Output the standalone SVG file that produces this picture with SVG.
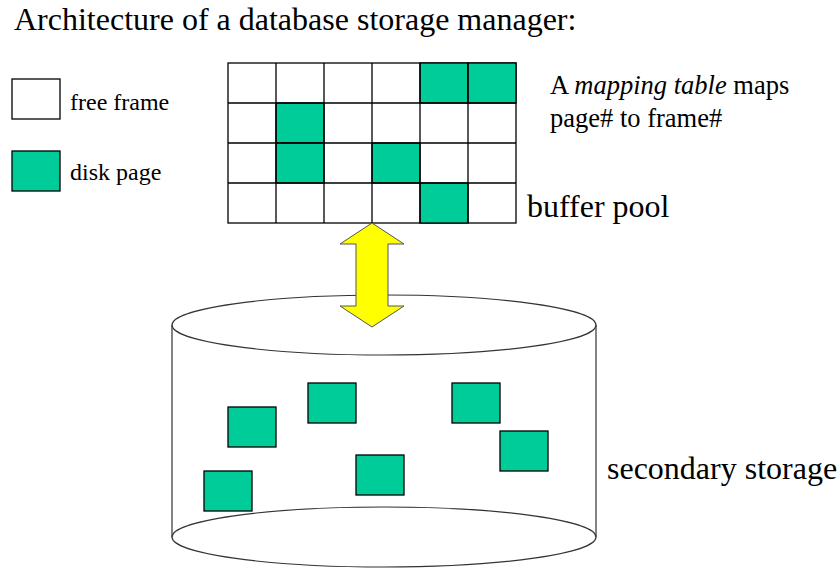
<svg xmlns="http://www.w3.org/2000/svg" width="840" height="576" viewBox="0 0 840 576">
<style>
text{font-family:"Liberation Serif","Times New Roman",serif;fill:#000}
.free{fill:#fff;stroke:#000;stroke-width:1.3}
.page{fill:#00CC99;stroke:#000;stroke-width:1.3}
.cyl{fill:none;stroke:#333;stroke-width:1.2}
.arrow{fill:#FFFF00;stroke:#555;stroke-width:1}
</style>
<rect width="840" height="576" fill="#fff"/>
<text x="14" y="30" font-size="32">Architecture of a database storage manager:</text>

<g id="legend">
<rect class="free" x="12" y="79" width="48" height="40"/>
<text x="70" y="110" font-size="24">free frame</text>
<rect class="page" x="12" y="151" width="48" height="40"/>
<text x="70" y="180" font-size="24">disk page</text>
</g>

<g id="buffer-pool">
<rect class="free" x="228" y="63" width="288" height="160"/>
<rect class="page" x="420" y="63" width="48" height="40"/>
<rect class="page" x="468" y="63" width="48" height="40"/>
<rect class="page" x="276" y="103" width="48" height="40"/>
<rect class="page" x="276" y="143" width="48" height="40"/>
<rect class="page" x="372" y="143" width="48" height="40"/>
<rect class="page" x="420" y="183" width="48" height="40"/>
<g stroke="#000" stroke-width="1.3">
<line x1="276" y1="63" x2="276" y2="223"/>
<line x1="324" y1="63" x2="324" y2="223"/>
<line x1="372" y1="63" x2="372" y2="223"/>
<line x1="420" y1="63" x2="420" y2="223"/>
<line x1="468" y1="63" x2="468" y2="223"/>
<line x1="228" y1="103" x2="516" y2="103"/>
<line x1="228" y1="143" x2="516" y2="143"/>
<line x1="228" y1="183" x2="516" y2="183"/>
</g>
<text x="527" y="217" font-size="32">buffer pool</text>
</g>

<g id="mapping-note">
<text x="550" y="94" font-size="26.5">A <tspan font-style="italic">mapping table</tspan> maps</text>
<text x="550" y="127" font-size="26.5">page# to frame#</text>
</g>

<g id="secondary-storage">
<path class="cyl" d="M172,325 L172,537 M596,325 L596,537"/>
<ellipse class="cyl" cx="384" cy="325" rx="212" ry="30"/>
<ellipse class="cyl" cx="384" cy="537" rx="212" ry="30"/>
<rect class="page" x="228" y="407" width="48" height="40"/>
<rect class="page" x="308" y="383" width="48" height="40"/>
<rect class="page" x="452" y="383" width="48" height="40"/>
<rect class="page" x="500" y="431" width="48" height="40"/>
<rect class="page" x="204" y="471" width="48" height="40"/>
<rect class="page" x="356" y="455" width="48" height="40"/>
<text x="607" y="479" font-size="32">secondary storage</text>
</g>

<g id="connectors">
<polygon class="arrow" points="372,223 404,244 388,244 388,306 404,306 372,327 340,306 356,306 356,244 340,244"/>
</g>
</svg>
